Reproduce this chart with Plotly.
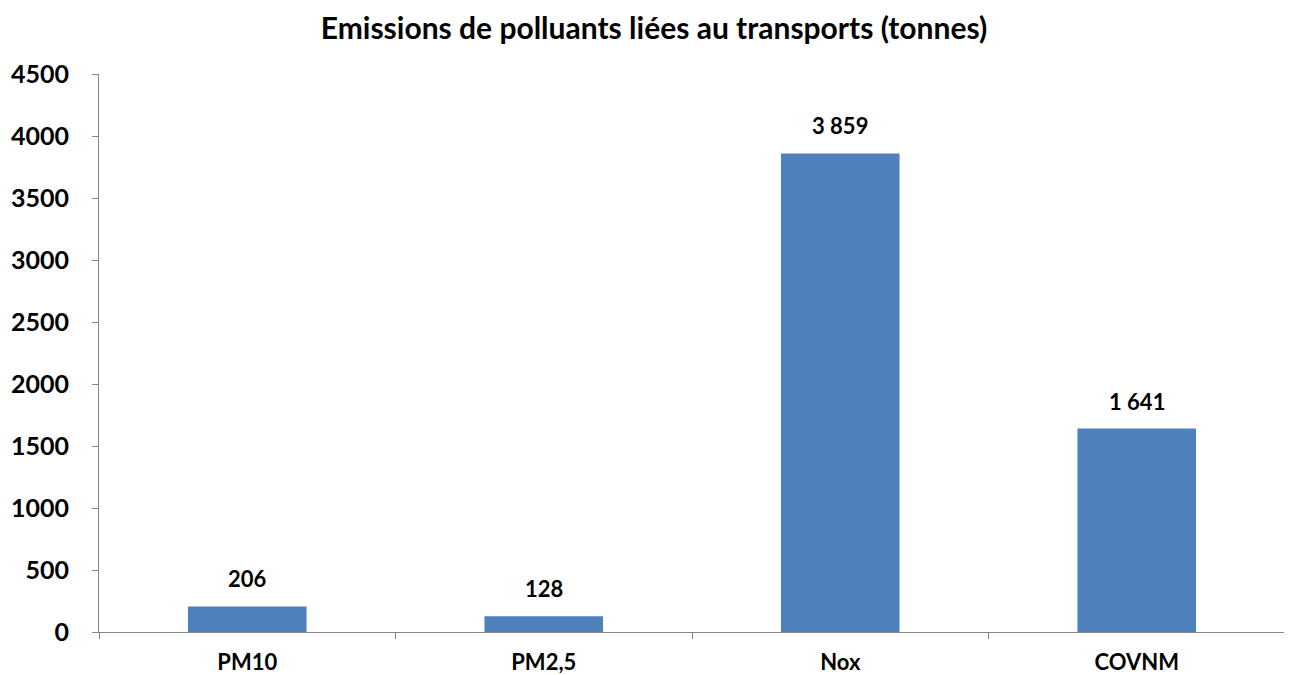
import plotly.graph_objects as go

categories = ["PM10", "PM2,5", "Nox", "COVNM"]
values = [206, 128, 3859, 1641]
y_ticks = [0, 500, 1000, 1500, 2000, 2500, 3000, 3500, 4000, 4500]

labels = [f"{v:,}".replace(",", " ") for v in values]

fig = go.Figure(go.Bar(
    x=categories, y=values,
    marker=dict(color="#4F81BD", line=dict(width=0)),
    width=0.4,
))

for c, v, t in zip(categories, values, labels):
    fig.add_annotation(x=c, y=v, text=f"<b>{t}</b>", showarrow=False,
                       yanchor="bottom", yshift=12,
                       font=dict(family="Lato", size=22, color="#000000"))

fig.update_layout(
    width=1292, height=675,
    paper_bgcolor="white", plot_bgcolor="white",
    margin=dict(l=91, r=15, t=66, b=51),
    title=dict(text="<b>Emissions de polluants liées au transports (tonnes)</b>",
               x=0.5, xanchor="center", y=1 - 20 / 675, yanchor="middle",
               font=dict(family="Lato", size=30, color="#000000")),
    showlegend=False,
    font=dict(family="Lato", color="#000000"),
)
fig.update_yaxes(range=[0, 4500], tickvals=y_ticks, ticktext=[str(t) for t in y_ticks],
                 automargin=False,
                 showgrid=False, zeroline=False, showline=True, linecolor="#868686", linewidth=1,
                 ticks="outside", ticklen=6, tickcolor="#868686", ticklabelstandoff=18,
                 tickfont=dict(family="Lato", size=25, color="#000000", weight="bold"))
fig.update_xaxes(showgrid=False, showline=True, linecolor="#868686", linewidth=1,
                 automargin=False,
                 ticks="outside", ticklen=6, tickcolor="#868686", tickson="boundaries",
                 ticklabelstandoff=11,
                 tickfont=dict(family="Lato", size=22, color="#000000", weight="bold"))

fig.write_html("out.html")
